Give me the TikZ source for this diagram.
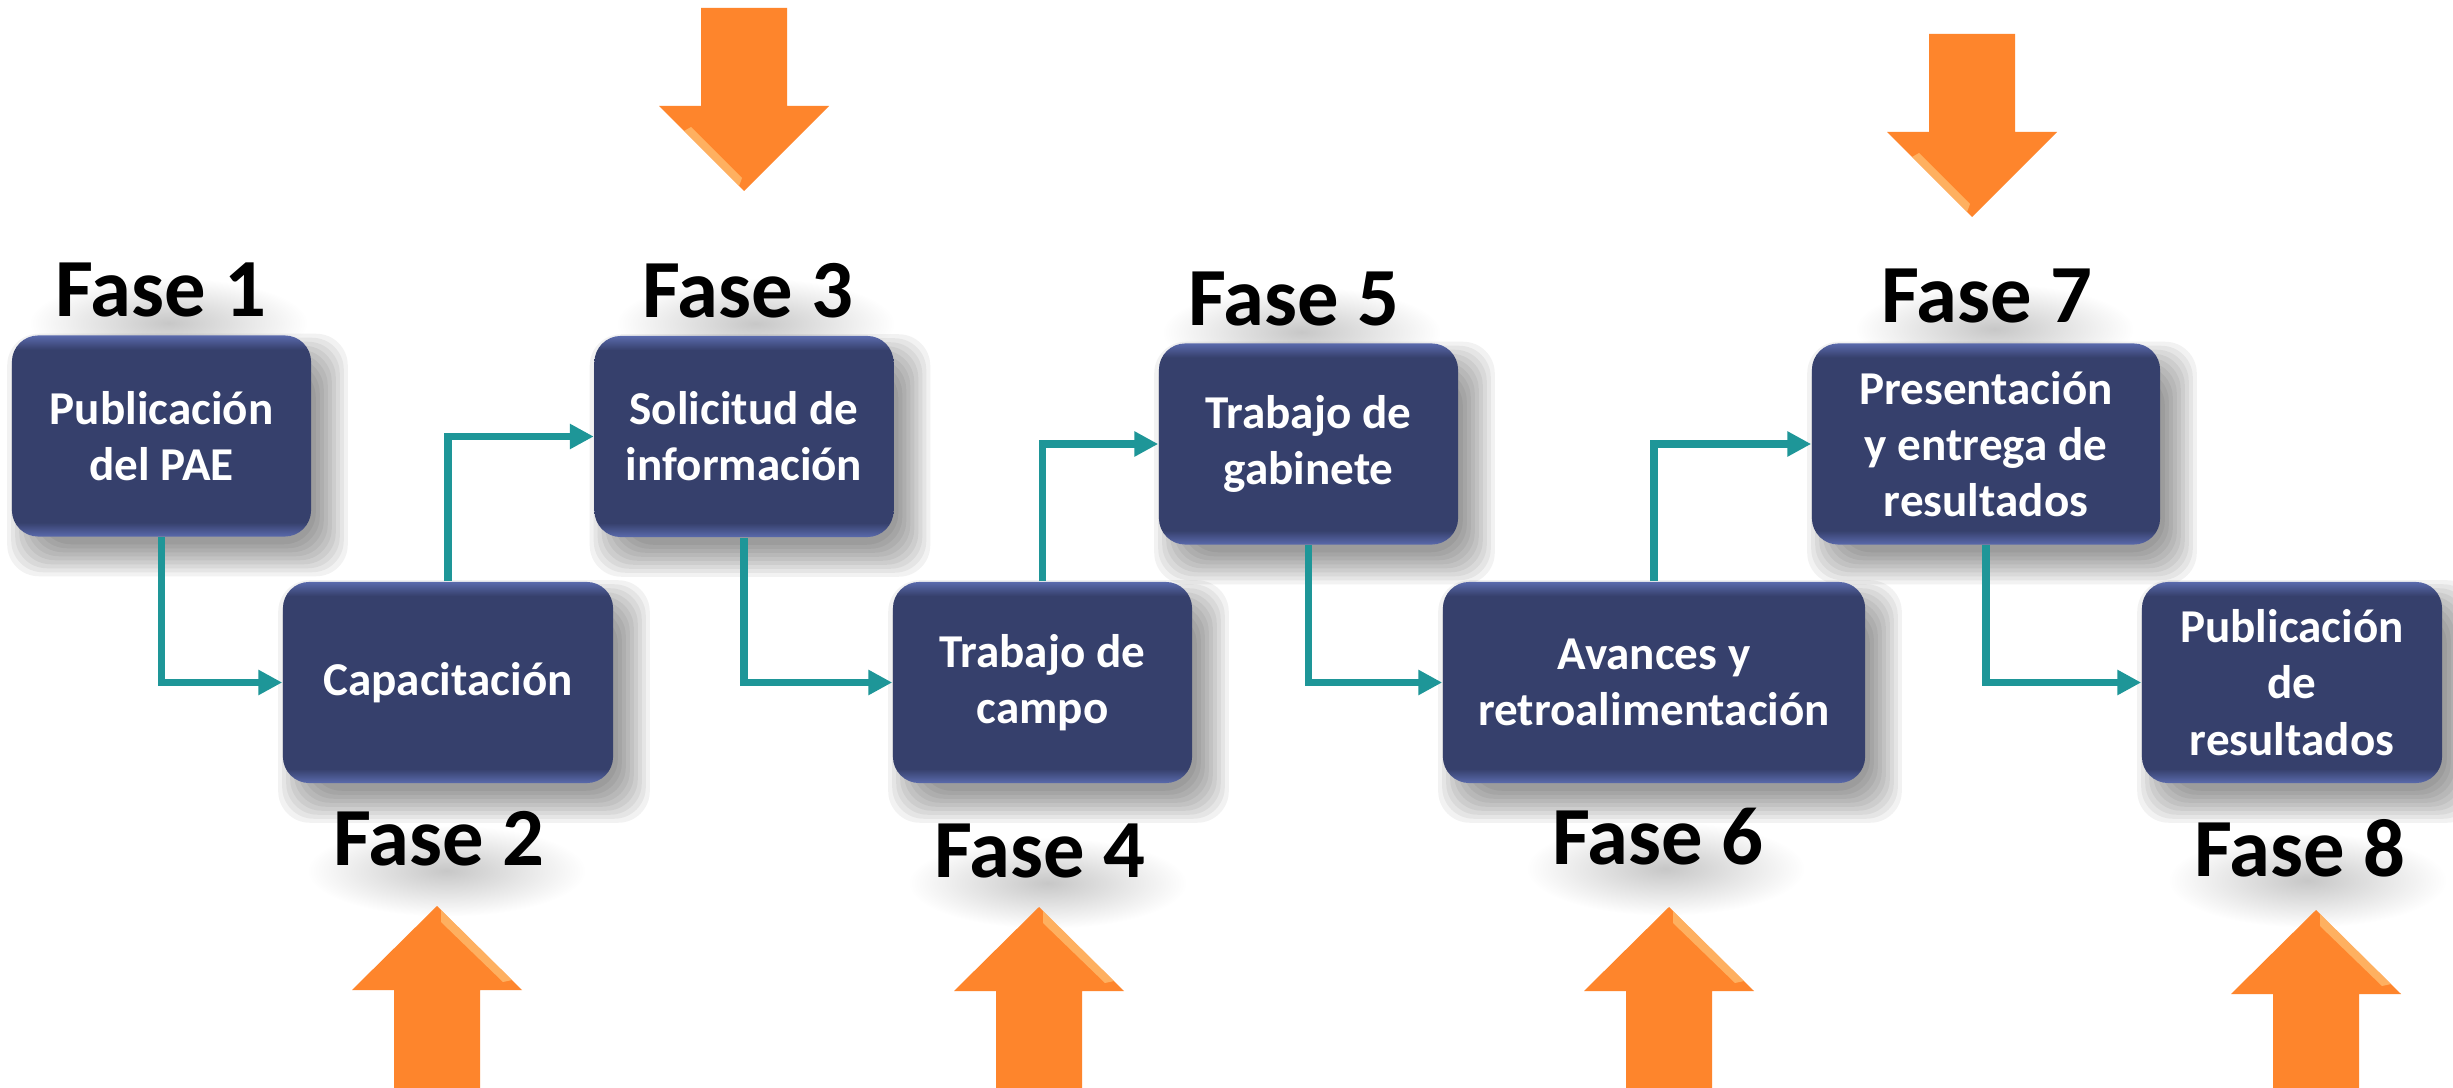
\documentclass[tikz,border=0pt]{standalone}
\usepackage{fontspec}
\setmainfont{Carlito}
\usetikzlibrary{arrows.meta,calc,fadings}
\definecolor{boxfill}{RGB}{54,64,108}
\definecolor{boxedge}{RGB}{90,106,172}
\definecolor{conncol}{RGB}{30,150,152}
\definecolor{orng}{RGB}{254,133,44}
\definecolor{ornglight}{RGB}{255,200,125}
\pgfdeclareverticalshading{boxshade}{100bp}{color(0bp)=(boxedge); color(25bp)=(boxedge); color(28.5bp)=(boxfill); color(71.5bp)=(boxfill); color(75bp)=(boxedge); color(100bp)=(boxedge)}
\tikzfading[name=blobfade, inner color=transparent!0, outer color=transparent!100]
\pgfdeclarelayer{bg}
\pgfsetlayers{bg,main}
\tikzset{
  phase/.style={rounded corners=7.5pt, shading=boxshade,
    text=white, font=\fontsize{13.4}{16}\selectfont\bfseries, align=center, inner sep=0pt,
    minimum height=2.01cm},
  fase/.style={font=\fontsize{23.5}{28}\selectfont\bfseries, anchor=base, inner sep=0pt},
  shadowlayer/.style={fill=black, opacity=0.05, rounded corners=9pt},
  haze/.style={fill=black, opacity=0.22, path fading=blobfade},
  conn/.style={draw=conncol, line width=2pt, -{Triangle[length=6.8pt,width=6.8pt]}},
  bigarrow/.style={fill=orng, draw=none},
  shine/.style={fill=ornglight, opacity=0.65, draw=none}
}
\newcommand\boxshadow[1]{%
  \foreach \r in {-12,-8,-4,0,4,8,12,16,20}{%
    \path[shadowlayer] ($(#1.north west)+(16-\r,19-\r)$) rectangle ($(#1.south east)+(16+\r,19+\r)$);}}
\newcommand\fasehaze[1]{%
  \path[haze] ($(#1.north west)+(-25,15)$) rectangle ($(#1.south east)+(40,50)$);}
\newcommand\downarr[2]{% center x, top y
  \fill[bigarrow] (#1-43,#2) -- (#1+43,#2) -- (#1+43,#2+98) -- (#1+85,#2+98) -- (#1,#2+183) -- (#1-85,#2+98) -- (#1-43,#2+98) -- cycle;
  \fill[shine] (#1-85+25,#2+98+25) -- (#1-85+80,#2+98+80) -- (#1-85+83,#2+98+72) -- (#1-85+32,#2+98+21) -- cycle;}
\newcommand\uparr[2]{% center x, tip y
  \fill[bigarrow] (#1,#2) -- (#1+85,#2+84) -- (#1+43,#2+84) -- (#1+43,1088) -- (#1-43,1088) -- (#1-43,#2+84) -- (#1-85,#2+84) -- cycle;
  \fill[shine] (#1+4,#2+4) -- (#1+75,#2+74) -- (#1+66,#2+76) -- (#1+4,#2+16) -- cycle;}
\begin{document}
\begin{tikzpicture}[x=0.01cm,y=-0.01cm]
\begin{pgfonlayer}{bg}
\fill[white] (0,0) rectangle (2453,1088);
\end{pgfonlayer}
\useasboundingbox (0,0) rectangle (2453,1088);
% phase labels
\node[fase] (f1) at (161,317) {Fase 1};
\node[fase] (f2) at (439,865) {Fase 2};
\node[fase] (f3) at (748,318) {Fase 3};
\node[fase] (f4) at (1040,877) {Fase 4};
\node[fase] (f5) at (1294,326) {Fase 5};
\node[fase] (f6) at (1658,864) {Fase 6};
\node[fase] (f7) at (1987,323) {Fase 7};
\node[fase] (f8) at (2300,876) {Fase 8};
% boxes
\node[phase, minimum width=2.99cm] (b1) at (161.5,436) {Publicación\\del PAE};
\node[phase, minimum width=3.30cm] (b2) at (448,682.5) {Capacitación};
\node[phase, minimum width=2.99cm] (b3) at (744,436.5) {Solicitud de\\información};
\node[phase, minimum width=2.99cm] (b4) at (1042.5,682.5) {Trabajo de\\campo};
\node[phase, minimum width=2.99cm] (b5) at (1308.5,444) {Trabajo de\\gabinete};
\node[phase, minimum width=4.22cm] (b6) at (1654,682.5) {Avances y\\retroalimentación};
\node[phase, minimum width=3.48cm] (b7) at (1986,444) {Presentación\\y entrega de\\resultados};
\node[phase, minimum width=3.00cm] (b8) at (2292,682.5) {Publicación\\de\\resultados};
% shadows
\begin{pgfonlayer}{bg}
\boxshadow{b1}\boxshadow{b2}\boxshadow{b3}\boxshadow{b4}
\boxshadow{b5}\boxshadow{b6}\boxshadow{b7}\boxshadow{b8}
\fasehaze{f1}\fasehaze{f2}\fasehaze{f3}\fasehaze{f4}
\fasehaze{f5}\fasehaze{f6}\fasehaze{f7}\fasehaze{f8}
\end{pgfonlayer}
% connectors
\draw[conn] (b1.south) |- (b2.west);
\draw[conn] (b2.north) |- (b3.west);
\draw[conn] (b3.south) |- (b4.west);
\draw[conn] (b4.north) |- (b5.west);
\draw[conn] (b5.south) |- (b6.west);
\draw[conn] (b6.north) |- (b7.west);
\draw[conn] (b7.south) |- (b8.west);
% orange arrows
\downarr{744}{8}
\downarr{1972}{34}
\uparr{437}{906}
\uparr{1039}{907}
\uparr{1669}{907}
\uparr{2316}{910}
\end{tikzpicture}
\end{document}
